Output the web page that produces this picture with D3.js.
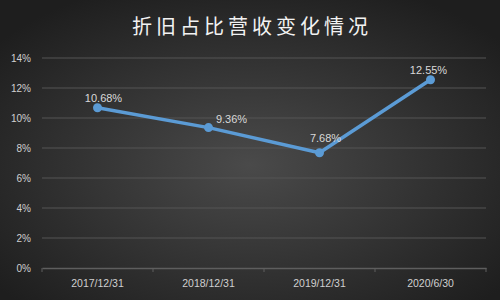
<!DOCTYPE html>
<html>
<head>
<meta charset="utf-8">
<script src="https://cdn.jsdelivr.net/npm/d3@7"></script>
<style>
  body { margin: 0; background: #2b2b2b; }
  svg { display: block; }
</style>
</head>
<body>
<div id="chart"></div>
<script>
// data
var categories = ["2017/12/31", "2018/12/31", "2019/12/31", "2020/6/30"];
var values = [10.68, 9.36, 7.68, 12.55];
var yTicks = [0, 2, 4, 6, 8, 10, 12, 14];
var title = "折旧占比营收变化情况";

var width = 500, height = 300;
var margin = { top: 58, right: 14, bottom: 32, left: 42 };
var chartWidth = width - margin.left - margin.right;
var chartHeight = height - margin.top - margin.bottom;

// label offsets (where excel happened to drop each label)
var labelOffset = [[6, -6], [23, -5], [6, -11], [-2, -6]];

var svg = d3.select("#chart").append("svg")
    .attr("width", width)
    .attr("height", height);

var defs = svg.append("defs");
var grad = defs.append("radialGradient")
    .attr("id", "bg")
    .attr("cx", "50%").attr("cy", "55%").attr("r", "65%");
grad.append("stop").attr("offset", "0%").attr("stop-color", "#4a4a4a");
grad.append("stop").attr("offset", "100%").attr("stop-color", "#1e1e1e");

svg.append("rect")
    .attr("width", width)
    .attr("height", height)
    .attr("fill", "url(#bg)");

svg.append("text")
    .attr("x", width / 2 + 2)
    .attr("y", 34)
    .attr("text-anchor", "middle")
    .style("font-family", "'Noto Sans CJK SC', sans-serif")
    .style("font-size", "20px")
    .style("letter-spacing", "4px")
    .style("fill", "#f2f2f2")
    .text(title);

var chartGroup = svg.append("g")
    .attr("transform", `translate(${margin.left}, ${margin.top})`);

var xScale = d3.scaleBand()
    .domain(categories)
    .range([0, chartWidth]);

var yScale = d3.scaleLinear()
    .domain([0, 14])
    .range([chartHeight, 0]);

// gridlines
chartGroup.selectAll(".grid")
    .data(yTicks.filter(d => d > 0))
    .enter()
    .append("line")
    .attr("x1", 0)
    .attr("x2", chartWidth)
    .attr("y1", d => yScale(d))
    .attr("y2", d => yScale(d))
    .attr("stroke", "#555")
    .attr("stroke-width", 1);

// y axis
var yAxis = d3.axisLeft(yScale)
    .tickValues(yTicks)
    .tickSize(0)
    .tickPadding(11)
    .tickFormat(d => d + "%");

chartGroup.append("g")
    .call(yAxis)
    .call(g => g.select(".domain").remove())
    .selectAll("text")
    .style("font-family", "'Liberation Sans', Arial, sans-serif")
    .style("font-size", "10px")
    .style("fill", "#d0d0d0");

// x axis
var xAxis = d3.axisBottom(xScale).tickSize(0).tickPadding(12);

var xg = chartGroup.append("g")
    .attr("transform", `translate(0, ${chartHeight})`)
    .call(xAxis);
xg.select(".domain").attr("stroke", "#5e5e5e").attr("stroke-width", 1.5);
xg.selectAll("text")
    .style("font-family", "'Liberation Sans', Arial, sans-serif")
    .style("font-size", "10.5px")
    .style("fill", "#d0d0d0");

// tick separators between categories
chartGroup.selectAll(".sep")
    .data(categories.concat(["end"]))
    .enter()
    .append("line")
    .attr("x1", (d, i) => i * xScale.bandwidth())
    .attr("x2", (d, i) => i * xScale.bandwidth())
    .attr("y1", chartHeight)
    .attr("y2", chartHeight + 4)
    .attr("stroke", "#5e5e5e");

var cx = d => xScale(d) + xScale.bandwidth() / 2;

var line = d3.line()
    .x((d, i) => cx(categories[i]))
    .y(d => yScale(d));

chartGroup.append("path")
    .datum(values)
    .attr("d", line)
    .attr("fill", "none")
    .attr("stroke", "#5b9bd5")
    .attr("stroke-width", 3.5)
    .attr("stroke-linejoin", "round");

chartGroup.selectAll(".dot")
    .data(values)
    .enter()
    .append("circle")
    .attr("cx", (d, i) => cx(categories[i]))
    .attr("cy", d => yScale(d))
    .attr("r", 4.5)
    .attr("fill", "#5b9bd5");

chartGroup.selectAll(".lbl")
    .data(values)
    .enter()
    .append("text")
    .attr("x", (d, i) => cx(categories[i]) + labelOffset[i][0])
    .attr("y", (d, i) => yScale(d) + labelOffset[i][1])
    .attr("text-anchor", "middle")
    .style("font-family", "'Liberation Sans', Arial, sans-serif")
    .style("font-size", "11px")
    .style("fill", "#d9d9d9")
    .text(d => d.toFixed(2) + "%");
</script>
</body>
</html>
